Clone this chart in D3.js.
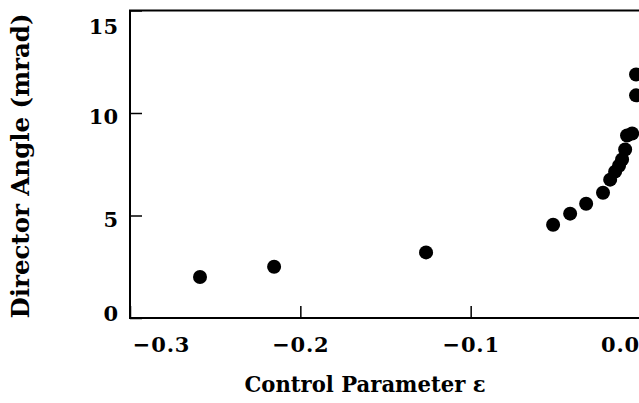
<!DOCTYPE html>
<html>
<head>
<meta charset="utf-8">
<script src="https://cdn.jsdelivr.net/npm/d3@7"></script>
<style>
  html, body { margin: 0; padding: 0; background: #fff; }
  svg { display: block; }
  text { font-family: "DejaVu Serif", "Liberation Serif", serif; font-weight: bold; fill: #000; }
</style>
</head>
<body>
<svg id="chart" width="639" height="403"></svg>
<script>
// Data (epsilon, director angle in mrad)
const epsilon = [-0.2589, -0.2154, -0.1262, -0.0516, -0.0416, -0.0322, -0.0223,
                 -0.0181, -0.0152, -0.0129, -0.0111, -0.0093, -0.0082, -0.0052,
                 -0.0029, -0.0029];
const angle   = [2.0, 2.5, 3.2, 4.55, 5.09, 5.57, 6.11,
                 6.75, 7.14, 7.43, 7.73, 8.22, 8.9, 9.0,
                 10.86, 11.88];
const xTicks = [-0.3, -0.2, -0.1, 0.0];
const xTickLabels = ["\u22120.3", "\u22120.2", "\u22120.1", "0.0"];
const yTicks = [0, 5, 10, 15];
const yTickLabels = ["0", "5", "10", "15"];
const xTitle = "Control Parameter \u03B5";
const yTitle = "Director Angle (mrad)";

(function () {
const svg = d3.select("#chart");
svg.append("rect").attr("width", 639).attr("height", 403).attr("fill", "#fff");

const mLeft = 130, mRight = 641, mTop = 10.5, mBottom = 318;
const x = d3.scaleLinear().domain([-0.3, 0.0]).range([mLeft, mRight]);
const y = d3.scaleLinear().domain([0, 15]).range([mBottom, mTop]);

// frame
svg.append("rect")
  .attr("x", mLeft).attr("y", mTop)
  .attr("width", mRight - mLeft + 10).attr("height", mBottom - mTop)
  .attr("fill", "none").attr("stroke", "#000").attr("stroke-width", 2);

// x axis
const xAxis = d3.axisBottom(x)
  .tickValues(xTicks)
  .tickFormat((d, i) => xTickLabels[i])
  .tickSize(-12).tickSizeOuter(0).tickPadding(19);
const gx = svg.append("g").attr("transform", `translate(0,${mBottom})`).call(xAxis);
gx.select(".domain").remove();
gx.selectAll(".tick line").attr("stroke", "#000").attr("stroke-width", 1.5);
gx.selectAll(".tick text")
  .attr("font-size", 21)
  .attr("font-family", "DejaVu Serif")
  .attr("font-weight", "bold")
  .attr("letter-spacing", 0.8)
  .attr("dx", (d, i) => (i === 0 ? 31 : (i === xTicks.length - 1 ? -21 : 0)));

// y axis
const yAxis = d3.axisLeft(y)
  .tickValues(yTicks)
  .tickFormat((d, i) => yTickLabels[i])
  .tickSize(-12).tickSizeOuter(0).tickPadding(12);
const gy = svg.append("g").attr("transform", `translate(${mLeft},0)`).call(yAxis);
gy.select(".domain").remove();
gy.selectAll(".tick line").attr("stroke", "#000").attr("stroke-width", 1.5);
gy.selectAll(".tick text")
  .attr("font-size", 21)
  .attr("font-family", "DejaVu Serif")
  .attr("font-weight", "bold")
  .attr("dy", (d) => (d === 15 ? "1.1em" : (d === 0 ? "0.1em" : "0.5em")));

// points
svg.append("g").selectAll("circle")
  .data(epsilon.map((e, i) => ({e, a: angle[i]})))
  .join("circle")
  .attr("cx", d => x(d.e))
  .attr("cy", d => y(d.a))
  .attr("r", 7)
  .attr("fill", "#000");

// titles
svg.append("text")
  .attr("x", 365).attr("y", 392)
  .attr("text-anchor", "middle")
  .attr("font-size", 22)
  .attr("textLength", 241).attr("lengthAdjust", "spacingAndGlyphs")
  .text(xTitle);

svg.append("text")
  .attr("transform", "translate(29,166) rotate(-90)")
  .attr("text-anchor", "middle")
  .attr("font-size", 24)
  .attr("textLength", 305).attr("lengthAdjust", "spacingAndGlyphs")
  .text(yTitle);
})();
</script>
</body>
</html>
